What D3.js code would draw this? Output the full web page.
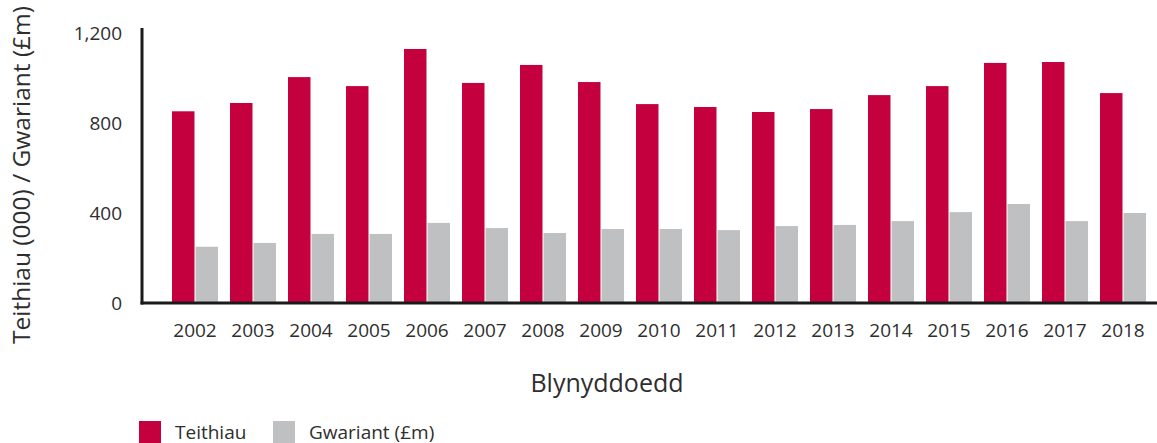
<!DOCTYPE html>
<html>
<head>
<meta charset="utf-8">
<script src="https://cdn.jsdelivr.net/npm/d3@7"></script>
<style>
body { margin: 0; background: #fff; }
text { font-family: "Open Sans", sans-serif; fill: #2e2e2e; }
</style>
</head>
<body>
<svg id="chart" width="1157" height="443"></svg>
<script>
var years = ["2002","2003","2004","2005","2006","2007","2008","2009","2010","2011","2012","2013","2014","2015","2016","2017","2018"];
var teithiau = [852, 889, 1004, 964, 1129, 978, 1058, 982, 884, 871, 849, 862, 924, 964, 1067, 1071, 933];
var gwariant = [250, 267, 307, 307, 356, 333, 311, 329, 329, 324, 342, 347, 364, 404, 440, 364, 400];
var yTicks = [0, 400, 800, 1200];
var seriesNames = ["Teithiau", "Gwariant (£m)"];
var seriesColors = ["#c4003f", "#bfc0c2"];

var W = 1157, H = 443;
var FONT = "'Open Sans', sans-serif";
var svg = d3.select("#chart");
var x0 = 142, y0 = 303;

var x = d3.scaleBand()
    .domain(years)
    .range([x0, 1176])
    .paddingInner(12/58)
    .paddingOuter(30/58);
var xs = d3.scaleBand()
    .domain(seriesNames)
    .range([0, x.bandwidth()])
    .paddingInner(2/46);
var y = d3.scaleLinear().domain([0, 1200]).range([y0, 33]);

// Bars
var groups = svg.selectAll("g.grp")
    .data(years)
    .enter().append("g")
    .attr("class", "grp")
    .attr("transform", function(d) { return "translate(" + x(d) + ",0)"; });
groups.selectAll("rect")
    .data(function(d, i) { return [teithiau[i], gwariant[i]]; })
    .enter().append("rect")
    .attr("x", function(d, j) { return xs(seriesNames[j]); })
    .attr("y", function(d) { return y(d); })
    .attr("width", xs.bandwidth())
    .attr("height", function(d) { return y0 - y(d); })
    .style("fill", function(d, j) { return seriesColors[j]; });

// Y axis
var yAxis = svg.append("g")
    .attr("transform", "translate(" + x0 + ",0)")
    .call(d3.axisLeft(y).tickValues(yTicks).tickSize(0).tickPadding(20).tickFormat(d3.format(",")));
yAxis.select(".domain").remove();
yAxis.selectAll("text").style("font-size", "19px").style("fill", "#2e2e2e")
    .style("font-family", FONT);
svg.append("line")
    .attr("x1", x0).attr("x2", x0)
    .attr("y1", 28).attr("y2", y0 + 1.5)
    .style("stroke", "#1a1a1a").style("stroke-width", 3);

// X axis
var xAxis = svg.append("g")
    .attr("transform", "translate(0," + y0 + ")")
    .call(d3.axisBottom(x).tickSize(0).tickPadding(21));
xAxis.select(".domain").remove();
xAxis.selectAll("text").style("font-size", "19px").style("fill", "#2e2e2e")
    .style("font-family", FONT);
svg.append("line")
    .attr("x1", x0 - 1.5).attr("x2", W)
    .attr("y1", y0).attr("y2", y0)
    .style("stroke", "#1a1a1a").style("stroke-width", 3);

// Axis titles
svg.append("text")
    .attr("x", 607).attr("y", 392)
    .attr("text-anchor", "middle")
    .style("font-size", "25px")
    .text("Blynyddoedd");
svg.append("text")
    .attr("transform", "translate(30,175) rotate(-90)")
    .attr("text-anchor", "middle")
    .style("font-size", "24.5px")
    .text("Teithiau (000) / Gwariant (£m)");

// Legend
var legX = [139, 273];
var leg = svg.selectAll("g.leg")
    .data(seriesNames)
    .enter().append("g")
    .attr("class", "leg")
    .attr("transform", function(d, i) { return "translate(" + legX[i] + ",421)"; });
leg.append("rect")
    .attr("width", 22).attr("height", 22)
    .style("fill", function(d, i) { return seriesColors[i]; });
leg.append("text")
    .attr("x", 36).attr("y", 17.5)
    .style("font-size", "19px")
    .text(function(d) { return d; });
</script>
</body>
</html>
